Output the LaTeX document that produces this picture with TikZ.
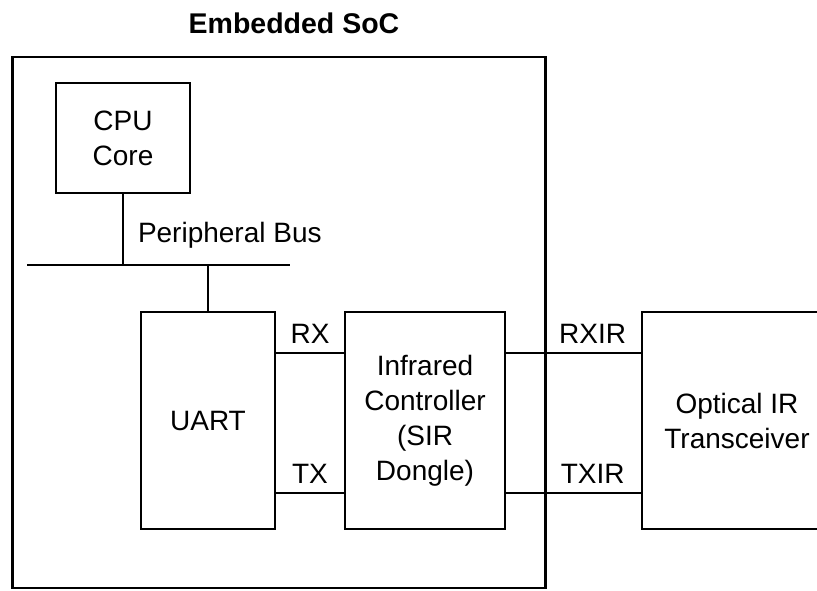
\documentclass[tikz,border=0pt]{standalone}
\usepackage{fontspec}
\setmainfont{Liberation Sans}
\usepackage{tikz}
\usetikzlibrary{positioning}

\begin{document}
\begin{tikzpicture}[x=1pt,y=-1pt, line width=2.8pt, every node/.style={font=\fontsize{28}{35}\selectfont,inner sep=3pt,outer sep=0pt}, blockbox/.style={draw,align=center,minimum height=217pt}, sigline/.style={line width=2.8pt}]
\useasboundingbox (0,0) rectangle (817,590);
\node[font=\fontsize{28.5}{34}\selectfont\bfseries] (title) at (294,23) {Embedded SoC};
\node[draw,minimum width=532.5pt,minimum height=531pt] (soc) at (279,322.5) {};
\node[draw,align=center,minimum width=134pt,minimum height=110pt] (cpu) at (123,138) {CPU\\Core};
\coordinate (busL) at (27,265);
\coordinate (busR) at (290,265);
\node[anchor=west] (buslabel) at (135,235) {Peripheral Bus};
\node[blockbox,minimum width=134pt] (uart) at (208,420.5) {UART};
\node[blockbox,minimum width=160pt,right=70pt of uart] (irc) {Infrared\\Controller\\(SIR\\Dongle)};
\node[blockbox,minimum width=190pt,right=137pt of irc] (optical) {Optical IR\\Transceiver};
\draw[sigline] (busL) -- (busR);
\draw[sigline] (cpu.south) -- (cpu.south |- busL);
\draw[sigline] (uart.north) -- (uart.north |- busL);
\draw[sigline] ([yshift=-41pt]uart.north east) -- node[above=7pt]{RX} ([yshift=-41pt]irc.north west);
\draw[sigline] ([yshift=36pt]uart.south east) -- node[above=7pt]{TX} ([yshift=36pt]irc.south west);
\draw[sigline] ([yshift=-41pt]irc.north east) -- node[above=7pt,pos=0.64]{RXIR} ([yshift=-41pt]optical.north west);
\draw[sigline] ([yshift=36pt]irc.south east) -- node[above=7pt,pos=0.64]{TXIR} ([yshift=36pt]optical.south west);
\end{tikzpicture}
\end{document}
